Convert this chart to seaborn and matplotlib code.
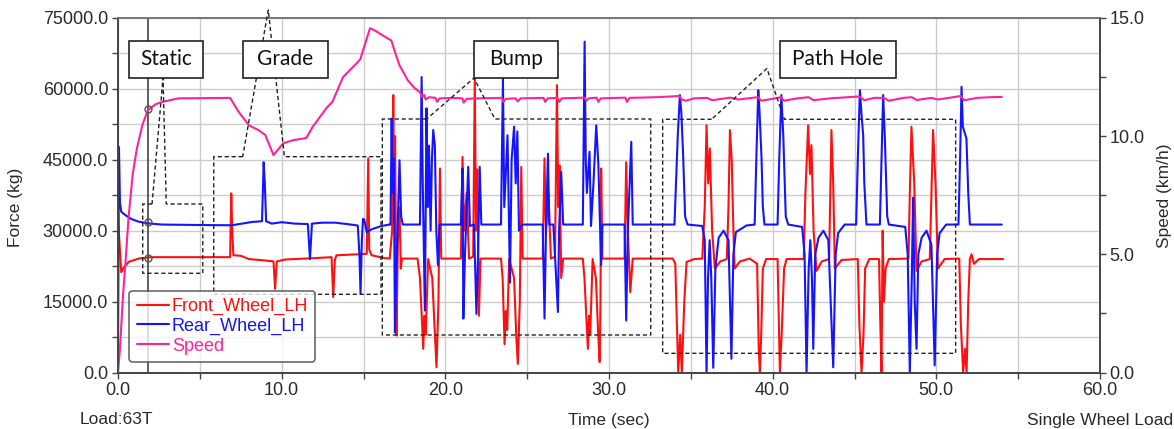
import numpy as np
import matplotlib
matplotlib.use("Agg")
import matplotlib.pyplot as plt
import seaborn as sns
from matplotlib.lines import Line2D
from matplotlib.patches import Rectangle
from matplotlib.ticker import MultipleLocator, FormatStrFormatter

# ---- data (time sec, value) ----
front_pts = [
    (0.0, 33500), (0.08, 28000), (0.2, 21200), (0.35, 22200), (0.65, 23400), (1.26, 24100),
    (2.0, 24400), (6.85, 24400), (6.92, 37900), (6.98, 30000), (7.05, 24800), (7.5, 24700),
    (8.0, 24000), (9.0, 23700), (9.5, 23500), (9.6, 17700), (9.7, 23500), (10.2, 23900),
    (12.0, 24200), (13.05, 24400), (13.15, 15950), (13.25, 23800), (13.35, 24800), (14.5, 25000),
    (15.2, 25100), (15.29, 45300), (15.35, 26000), (15.5, 24800), (16.3, 24200), (16.6, 24100),
    # bump
    (16.75, 30000), (16.82, 58700), (16.88, 32000), (16.93, 50000), (17.02, 7800), (17.1, 28000),
    (17.2, 35000), (17.28, 22000), (17.35, 24100),
    (18.3, 24100), (18.45, 20000), (18.65, 5000), (18.72, 12000), (18.8, 8000), (18.95, 24000),
    (19.2, 20000), (19.35, 9000), (19.46, 1100), (19.58, 15000), (19.67, 43150), (19.75, 24100),
    (20.95, 24100), (21.05, 45600), (21.15, 30000), (21.3, 38000), (21.45, 24100), (21.7, 24500),
    (21.8, 62200), (21.87, 30000), (21.95, 43000), (22.05, 12000), (22.15, 24100),
    (23.4, 24100), (23.5, 20000), (23.62, 6000), (23.7, 13000), (23.78, 9000), (23.9, 24000),
    (24.2, 20000), (24.33, 8000), (24.43, 1800), (24.55, 15000), (24.64, 43500), (24.72, 24100),
    (25.95, 24100), (26.06, 45300), (26.15, 30000), (26.3, 38000), (26.45, 24100), (26.7, 24500),
    (26.82, 60800), (26.9, 35000), (26.98, 43800), (27.08, 20000), (27.2, 24100),
    (28.4, 24100), (28.5, 20000), (28.71, 5000), (28.78, 12000), (28.85, 8000), (29.0, 24000),
    (29.2, 20000), (29.33, 9000), (29.43, 2200), (29.48, 15000), (29.52, 43150), (29.6, 24100),
    (30.95, 24100), (31.05, 44500), (31.15, 30000), (31.3, 17000), (31.45, 24100),
    # path hole
    (33.9, 24100), (34.05, 23000), (34.15, 10000), (34.23, 0), (34.35, 8000), (34.45, 0),
    (34.6, 15000), (34.74, 23400), (35.2, 24000), (35.7, 24100), (35.85, 35000), (35.96, 52300),
    (36.06, 40000), (36.16, 47400), (36.3, 30000), (36.47, 22000), (36.8, 23500), (37.2, 24000),
    (37.3, 35000), (37.39, 51300), (37.5, 45000), (37.6, 30000), (37.68, 22000), (38.0, 23500),
    (38.6, 24100), (39.05, 23000), (39.15, 5000), (39.22, 0), (39.3, 8000), (39.4, 22000),
    (39.6, 24000), (40.3, 24000), (40.38, 10000), (40.44, 0), (40.55, 8000), (40.7, 22000),
    (40.85, 24000), (41.9, 24000), (42.0, 38000), (42.17, 52300), (42.28, 42000), (42.37, 48100),
    (42.5, 30000), (42.68, 21500), (43.0, 23500), (43.45, 24000), (43.59, 51300), (43.7, 40000),
    (43.8, 22000), (44.2, 23800), (45.2, 24000), (45.3, 10000), (45.43, 0), (45.55, 8000),
    (45.65, 22000), (45.9, 24000), (46.5, 24000), (46.58, 10000), (46.65, 0), (46.72, 30000),
    (46.8, 15000), (46.9, 22000), (47.1, 24000), (48.3, 24100), (48.38, 38000), (48.48, 52000),
    (48.58, 45000), (48.65, 40000), (48.79, 21500), (49.1, 23500), (49.6, 24000), (49.8, 51300),
    (49.95, 40000), (50.1, 22000), (50.5, 24000), (51.4, 24100), (51.5, 10000), (51.64, 0),
    (51.75, 5000), (51.85, 0), (51.95, 15000), (52.05, 24000), (52.15, 25000), (52.3, 23000),
    (52.6, 24000), (54.08, 24000),
]

rear_pts = [
    (0.0, 5000), (0.06, 47700), (0.12, 36000), (0.2, 34000), (0.45, 33300), (0.8, 32500),
    (1.26, 31900), (2.0, 31500), (2.7, 31300), (5.0, 31200), (6.96, 31150), (7.6, 31500),
    (8.2, 31850), (8.8, 32000), (8.9, 44500), (8.97, 40000), (9.05, 32000), (9.4, 31500),
    (10.0, 31800), (10.8, 31500), (11.6, 31400), (11.73, 24000), (11.85, 31500), (12.5, 31700),
    (13.25, 31700), (14.0, 31400), (14.65, 31100), (14.75, 25000), (14.82, 16700), (14.9, 28000),
    (14.97, 32500), (15.05, 32300), (15.2, 29700), (15.5, 30300), (16.1, 31000), (16.6, 31300),
    # bump
    (16.65, 31300), (16.72, 53700), (16.78, 38000), (16.85, 45300), (16.92, 8500), (17.0, 20000),
    (17.08, 30000), (17.2, 44900), (17.3, 33000), (17.4, 31300),
    (18.45, 31300), (18.55, 62500), (18.62, 40000), (18.75, 13100), (18.85, 55900), (18.92, 35000),
    (19.0, 48000), (19.1, 30000), (19.18, 45000), (19.26, 51300), (19.36, 48000), (19.45, 30000),
    (19.55, 22700), (19.65, 31300),
    (20.95, 31300), (21.05, 43150), (21.1, 11400), (21.2, 25000), (21.4, 43500), (21.5, 31000),
    (21.75, 31300), (21.9, 12400), (22.0, 25000), (22.1, 43500), (22.2, 31300),
    (23.4, 31300), (23.52, 62200), (23.6, 35000), (23.8, 50200), (23.95, 19000), (24.05, 45000),
    (24.2, 52000), (24.3, 40000), (24.4, 51000), (24.5, 30000), (24.7, 31300),
    (25.95, 31300), (26.06, 11400), (26.15, 30000), (26.27, 46300), (26.35, 31300), (26.6, 31300),
    (26.88, 12800), (26.95, 30000), (27.08, 42400), (27.2, 31300),
    (28.4, 31300), (28.51, 70000), (28.58, 45000), (28.65, 38000), (28.81, 46700), (28.9, 31000),
    (29.05, 40000), (29.22, 52300), (29.35, 44000), (29.45, 31000), (29.52, 22700), (29.6, 31300),
    (30.95, 31300), (31.05, 11000), (31.15, 30000), (31.36, 48800), (31.45, 31300),
    # path hole
    (34.0, 31300), (34.2, 50000), (34.33, 58700), (34.42, 55000), (34.53, 46000), (34.65, 33000),
    (34.8, 31300), (35.7, 31000), (35.85, 28000), (35.96, 0), (36.05, 20000), (36.15, 28000),
    (36.25, 20000), (36.37, 1000), (36.5, 22000), (36.7, 28500), (37.0, 30000), (37.3, 28000),
    (37.48, 2900), (37.6, 25000), (37.75, 29700), (38.4, 31100), (38.9, 31300), (39.0, 45000),
    (39.12, 59750), (39.2, 55000), (39.32, 45300), (39.4, 35000), (39.5, 31300), (40.3, 31300),
    (40.4, 45000), (40.53, 58700), (40.65, 50000), (40.8, 33000), (40.95, 31300), (41.8, 30800),
    (41.95, 25000), (42.07, 0), (42.2, 22000), (42.3, 28000), (42.4, 20000), (42.48, 5000),
    (42.6, 25000), (42.8, 28500), (43.1, 30000), (43.4, 28000), (43.7, 1100), (43.85, 25000),
    (44.0, 29500), (44.4, 31300), (45.1, 31300), (45.2, 45000), (45.33, 59750), (45.42, 55000),
    (45.53, 50200), (45.6, 40000), (45.73, 31300), (46.55, 31300), (46.65, 45000), (46.75, 58700),
    (46.85, 50000), (47.0, 33000), (47.1, 31300), (48.1, 30800), (48.25, 25000), (48.38, 0),
    (48.5, 20000), (48.58, 37000), (48.68, 15000), (48.79, 5000), (48.9, 25000), (49.1, 28500),
    (49.4, 30000), (49.7, 27000), (49.9, 1500), (50.05, 25000), (50.2, 29500), (50.6, 31300),
    (51.35, 31300), (51.45, 45000), (51.54, 60450), (51.62, 52000), (51.84, 49500), (51.95, 38000),
    (52.05, 31300), (54.0, 31300),
]

speed_pts = [
    (0.0, 0.0), (0.12, 1.0), (0.3, 3.2), (0.45, 4.6), (0.65, 6.6), (0.9, 8.4), (1.16, 9.5),
    (1.5, 10.5), (1.83, 11.1), (2.3, 11.35), (2.7, 11.45), (3.7, 11.6), (6.85, 11.62),
    (7.37, 11.03), (8.0, 10.46), (8.6, 10.25), (9.0, 10.05), (9.5, 9.2), (10.1, 9.7),
    (10.7, 9.83), (11.5, 9.92), (11.9, 10.4), (12.75, 11.2), (13.1, 11.45), (13.75, 12.5),
    (14.6, 13.1), (14.8, 13.25), (15.4, 14.57), (15.75, 14.45), (16.2, 14.25), (16.7, 14.05),
    (16.95, 13.5), (17.2, 13.0), (17.7, 12.37), (18.1, 12.05), (18.45, 11.86), (18.6, 11.65),
    (18.7, 11.75), (18.8, 11.55), (19.0, 11.65), (19.4, 11.62), (19.5, 11.45), (19.65, 11.6),
    (20.5, 11.62), (21.05, 11.6), (21.12, 11.42), (21.3, 11.58), (22.0, 11.6), (23.45, 11.62),
    (23.55, 11.45), (23.7, 11.58), (24.3, 11.6), (24.42, 11.47), (24.6, 11.6), (26.0, 11.62),
    (26.1, 11.45), (26.25, 11.6), (26.85, 11.62), (26.95, 11.45), (27.1, 11.6), (28.5, 11.63),
    (28.62, 11.5), (28.75, 11.6), (29.25, 11.63), (29.35, 11.45), (29.5, 11.6), (31.0, 11.63),
    (31.1, 11.45), (31.25, 11.62), (33.0, 11.65), (34.3, 11.7), (34.45, 11.55), (34.7, 11.5),
    (35.2, 11.6), (36.0, 11.62), (36.3, 11.52), (36.6, 11.55), (37.4, 11.63), (37.9, 11.55),
    (39.1, 11.65), (39.3, 11.5), (40.0, 11.58), (40.5, 11.65), (40.7, 11.5), (41.5, 11.6),
    (42.2, 11.65), (42.5, 11.52), (43.5, 11.6), (45.3, 11.68), (45.6, 11.52), (46.2, 11.62),
    (46.8, 11.62), (47.1, 11.5), (48.0, 11.62), (48.5, 11.65), (48.8, 11.53), (49.7, 11.62),
    (50.1, 11.55), (51.5, 11.7), (51.7, 11.52), (52.5, 11.62), (53.3, 11.65), (54.0, 11.66),
]

cursor_t = 1.83
cursor_vals = {"front": 24300, "rear": 31800, "speed": 11.15}

series_names = ["Front_Wheel_LH", "Rear_Wheel_LH", "Speed"]
series_colors = ["#ff1010", "#1414ff", "#ff2299"]

# annotation regions: label, box (t0, t1), dashed outline path (t, kg)
box_y = (62300, 70200)
regions = [
    ("Static", (0.69, 5.17),
     [(2.08, 35650), (1.51, 35650), (1.51, 20990), (5.18, 20990), (5.18, 35650),
      (2.95, 35650), (2.75, 62300), (2.08, 35650)]),
    ("Grade", (7.64, 12.81),
     [(7.62, 45660), (5.85, 45660), (5.85, 16545), (16.07, 16545), (16.07, 45660),
      (10.17, 45660), (9.18, 76700), (7.62, 45660)]),
    ("Bump", (21.75, 26.9),
     [(18.86, 53630), (16.15, 53630), (16.15, 7934), (32.55, 7934), (32.55, 53630),
      (23.03, 53630), (21.75, 62300), (18.86, 53630)]),
    ("Path Hole", (40.45, 47.54),
     [(36.27, 53570), (33.28, 53570), (33.28, 4060), (51.18, 4060), (51.18, 53570),
      (40.72, 53570), (39.65, 64320), (36.27, 53570)]),
]

# ---- style ----
sns.set_style("whitegrid")
plt.rcParams["font.family"] = ["Liberation Sans", "DejaVu Sans"]
txt = "#2a2a2a"

fig = plt.figure(figsize=(11.74, 4.29), dpi=100)
ax = fig.add_axes([118 / 1174, 56.5 / 429, 982 / 1174, 354.5 / 429])
ax2 = ax.twinx()

front = np.array(front_pts)
rear = np.array(rear_pts)
speed = np.array(speed_pts)

sns.lineplot(x=front[:, 0], y=front[:, 1], ax=ax, color=series_colors[0], linewidth=1.5,
             estimator=None, sort=False, legend=False)
sns.lineplot(x=rear[:, 0], y=rear[:, 1], ax=ax, color=series_colors[1], linewidth=1.5,
             estimator=None, sort=False, legend=False)
sns.lineplot(x=speed[:, 0], y=speed[:, 1], ax=ax2, color=series_colors[2], linewidth=1.5,
             estimator=None, sort=False, legend=False)

ax.set_xlim(0, 60)
ax.set_ylim(0, 75000)
ax2.set_ylim(0, 15)

# grid and ticks
ax.set_axisbelow(True)
ax.xaxis.set_major_locator(MultipleLocator(10))
ax.xaxis.set_minor_locator(MultipleLocator(5))
ax.yaxis.set_major_locator(MultipleLocator(15000))
ax.yaxis.set_minor_locator(MultipleLocator(7500))
ax2.yaxis.set_major_locator(MultipleLocator(5))
ax2.yaxis.set_minor_locator(MultipleLocator(2.5))
ax.xaxis.set_major_formatter(FormatStrFormatter("%.1f"))
ax.yaxis.set_major_formatter(FormatStrFormatter("%.1f"))
ax2.yaxis.set_major_formatter(FormatStrFormatter("%.1f"))
ax.grid(which="both", color="#cccccc", linewidth=1.0)
ax2.grid(False)
for a in (ax, ax2):
    a.tick_params(which="both", direction="out", length=4, width=1, color="#444444",
                  labelsize=13, labelcolor=txt, pad=3)
ax.tick_params(axis="x", which="both", bottom=True)
ax.tick_params(axis="y", which="both", left=True)
ax2.tick_params(axis="y", which="both", right=True)
for a in (ax, ax2):
    for s in a.spines.values():
        s.set_color("#444444")
        s.set_linewidth(1.2)
    a.spines["top"].set_color("#777777")
ax.set_xlabel("")
ax.set_ylabel("")
ax2.set_ylabel("")

# cursor line with markers
ax.axvline(cursor_t, color="#444444", linewidth=1.2, zorder=3)
ax.plot([cursor_t, cursor_t], [cursor_vals["front"], cursor_vals["rear"]], ls="none",
        marker="o", mfc="none", mec="#555555", ms=5, zorder=4)
ax2.plot([cursor_t], [cursor_vals["speed"]], ls="none", marker="o", mfc="none",
         mec="#555555", ms=5, zorder=4)

# callouts
for label, (b0, b1), path in regions:
    p = np.array(path)
    ax2.plot(p[:, 0], p[:, 1], transform=ax.transData, color="#222222", lw=1.0,
             ls=(0, (3, 2)), zorder=5, clip_on=False)
    ax2.add_patch(Rectangle((b0, box_y[0]), b1 - b0, box_y[1] - box_y[0],
                            transform=ax.transData, facecolor="white", edgecolor="#222222",
                            lw=1.2, zorder=6, clip_on=False))
    ax2.text((b0 + b1) / 2, sum(box_y) / 2, label, transform=ax.transData, ha="center",
             va="center", fontsize=15, family=["Lato", "DejaVu Sans"], color="#111111",
             zorder=7)

# legend
handles = [Line2D([], [], color=c, lw=1.5) for c in series_colors]
leg = ax2.legend(handles, series_names, loc="lower left", bbox_to_anchor=(0.0115, 0.03),
                 borderaxespad=0, fontsize=13, handlelength=1.8, handletextpad=0.15,
                 labelspacing=0.15, borderpad=0.4, frameon=True, fancybox=True)
leg.get_frame().set_edgecolor("#444444")
leg.get_frame().set_linewidth(1.2)
for t, c in zip(leg.get_texts(), series_colors):
    t.set_color(c)
leg.set_zorder(8)

# axis titles
fig.text(16 / 1174, 1 - 207 / 429, "Force (kg)", rotation=90, ha="center", va="center",
         fontsize=12.5, color=txt)
fig.text(1165 / 1174, 1 - 196 / 429, "Speed (km/h)", rotation=90, ha="center", va="center",
         fontsize=12.5, color=txt)
fig.text(609 / 1174, 1 - 420 / 429, "Time (sec)", ha="center", va="center", fontsize=12.5,
         color=txt)
fig.text(80 / 1174, 1 - 420 / 429, "Load:63T", ha="left", va="center", fontsize=12.5,
         color=txt)
fig.text(1173 / 1174, 1 - 420 / 429, "Single Wheel Load", ha="right", va="center",
         fontsize=12.5, color=txt)

fig.savefig("out.png", dpi=100)
